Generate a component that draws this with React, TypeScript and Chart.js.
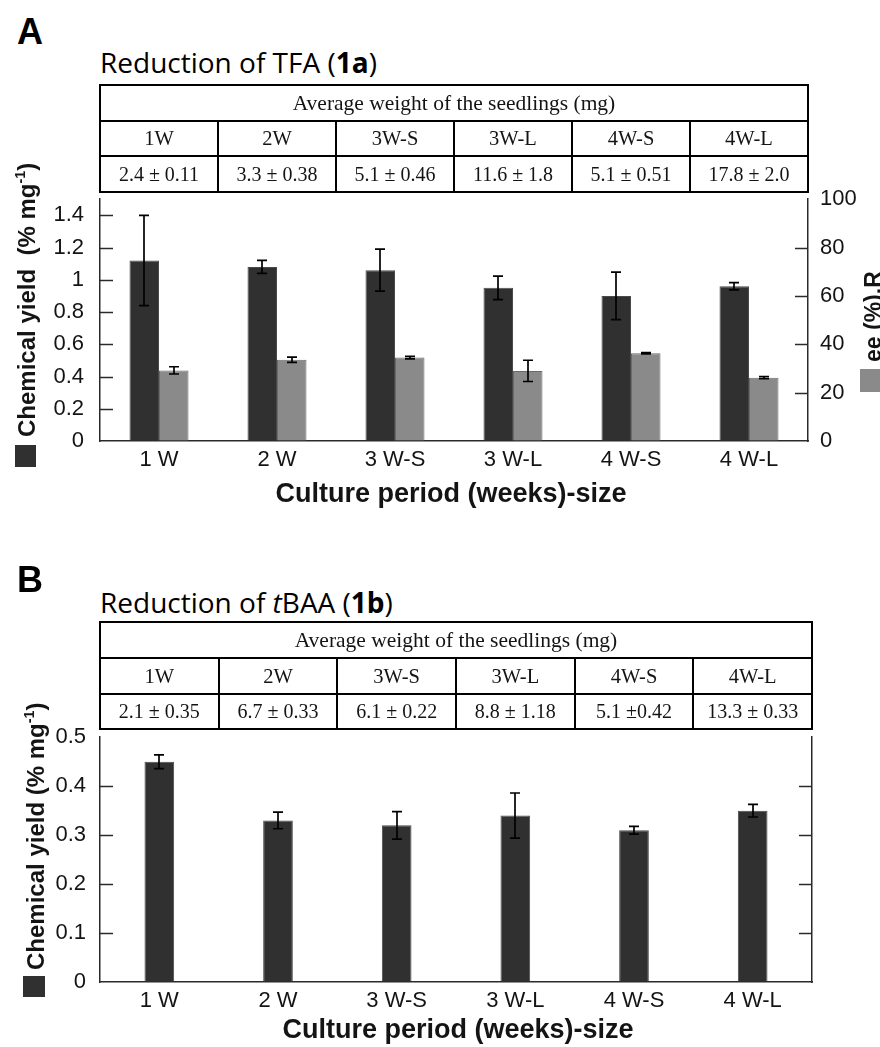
import React, { useEffect, useRef } from "react";
import { Chart, registerables } from "chart.js";

Chart.register(...registerables);

// ---------- data ----------
const CATEGORIES = ["1 W", "2 W", "3 W-S", "3 W-L", "4 W-S", "4 W-L"];
const TABLE_HEADS = ["1W", "2W", "3W-S", "3W-L", "4W-S", "4W-L"];
const TABLE_TITLE = "Average weight of the seedlings (mg)";
const WEIGHTS_A = ["2.4 ± 0.11", "3.3 ± 0.38", "5.1 ± 0.46", "11.6 ± 1.8", "5.1 ± 0.51", "17.8 ± 2.0"];
const WEIGHTS_B = ["2.1 ± 0.35", "6.7 ± 0.33", "6.1 ± 0.22", "8.8 ± 1.18", "5.1 ±0.42", "13.3 ± 0.33"];

const YIELD_A = [1.12, 1.08, 1.06, 0.95, 0.9, 0.96];
const YIELD_A_ERR = [0.28, 0.04, 0.13, 0.073, 0.147, 0.022];
const EE_A = [29.2, 33.6, 34.5, 29.0, 36.3, 26.2];
const EE_A_ERR = [1.5, 1.1, 0.5, 4.4, 0.25, 0.45];

const YIELD_B = [0.45, 0.33, 0.32, 0.34, 0.31, 0.35];
const YIELD_B_ERR = [0.014, 0.017, 0.028, 0.046, 0.008, 0.013];

const TICKS_A_LEFT = [0, 0.2, 0.4, 0.6, 0.8, 1, 1.2, 1.4];
const TICKS_A_RIGHT = [0, 20, 40, 60, 80, 100];
const TICKS_B = [0, 0.1, 0.2, 0.3, 0.4, 0.5];

// ---------- styles ----------
const SANS = '"Liberation Sans", Arial, Helvetica, sans-serif';
const SERIF = '"Liberation Serif", "Times New Roman", serif';
const TITLE_FONT = '"Open Sans", "Noto Sans", sans-serif';
const DARK = "#303030";
const GRAY = "#8a8a8a";
const AXIS = "#2a2a2a";
const TEXT = "#141414";

function makeErrorBars(sets: number[][]) {
  return {
    id: "errorBars",
    afterDatasetsDraw(chart: any) {
      const ctx = chart.ctx;
      ctx.save();
      ctx.strokeStyle = "#000";
      ctx.lineWidth = 1.7;
      chart.data.datasets.forEach((ds: any, i: number) => {
        const errs = sets[i];
        if (!errs) return;
        const meta = chart.getDatasetMeta(i);
        const scale = chart.scales[meta.yAxisID];
        meta.data.forEach((el: any, j: number) => {
          const v = ds.data[j];
          const e = errs[j];
          const x = Math.round(el.x);
          const yT = scale.getPixelForValue(v + e);
          const yB = scale.getPixelForValue(v - e);
          ctx.beginPath();
          ctx.moveTo(x, yT);
          ctx.lineTo(x, yB);
          ctx.moveTo(x - 5, yT);
          ctx.lineTo(x + 5, yT);
          ctx.moveTo(x - 5, yB);
          ctx.lineTo(x + 5, yB);
          ctx.stroke();
        });
      });
      ctx.restore();
    },
  };
}

function makeInnerTicks(axes: { id: string; side: "left" | "right" }[]) {
  return {
    id: "innerTicks",
    afterDraw(chart: any) {
      const { ctx, chartArea } = chart;
      ctx.save();
      ctx.strokeStyle = AXIS;
      ctx.lineWidth = 1.5;
      axes.forEach(({ id, side }) => {
        const scale = chart.scales[id];
        scale.ticks.forEach((t: any) => {
          if (t.value <= scale.min || t.value >= scale.max) return;
          const y = Math.round(scale.getPixelForValue(t.value)) + 0.5;
          ctx.beginPath();
          if (side === "left") {
            ctx.moveTo(chartArea.left, y);
            ctx.lineTo(chartArea.left + 13, y);
          } else {
            ctx.moveTo(chartArea.right, y);
            ctx.lineTo(chartArea.right - 13, y);
          }
          ctx.stroke();
        });
      });
      ctx.restore();
    },
  };
}

const fmt = (v: any) => String(Math.round(Number(v) * 10) / 10);

function xScale() {
  return {
    grid: { display: true, drawOnChartArea: false, drawTicks: false },
    border: { display: true, color: AXIS, width: 1.5 },
    ticks: { font: { family: SANS, size: 22 }, color: TEXT, padding: 6, maxRotation: 0, autoSkip: false },
    afterFit: (s: any) => {
      s.height = 30;
    },
  };
}

function yScale(pos: "left" | "right", min: number, max: number, ticks: number[], showLabels: boolean, pad: number, width: number) {
  return {
    position: pos,
    min,
    max,
    afterBuildTicks: (s: any) => {
      s.ticks = ticks.map((v) => ({ value: v }));
    },
    grid: { display: true, drawOnChartArea: false, drawTicks: false },
    border: { display: true, color: AXIS, width: 1.5 },
    ticks: {
      display: showLabels,
      font: { family: SANS, size: 22 },
      color: TEXT,
      padding: pad,
      callback: (v: any) => fmt(v),
    },
    afterFit: (s: any) => {
      s.width = width;
    },
  };
}

function configA() {
  return {
    type: "bar",
    data: {
      labels: CATEGORIES,
      datasets: [
        {
          label: "Chemical yield",
          data: YIELD_A,
          yAxisID: "y",
          backgroundColor: DARK,
          borderColor: "#4a4a4a",
          borderWidth: 1,
          categoryPercentage: 0.5,
          barPercentage: 1,
        },
        {
          label: "ee (%)",
          data: EE_A,
          yAxisID: "y1",
          backgroundColor: GRAY,
          borderColor: "#6a6a6a",
          borderWidth: 1,
          categoryPercentage: 0.5,
          barPercentage: 1,
        },
      ],
    },
    options: {
      responsive: false,
      animation: false,
      layout: { padding: { left: 40, right: 12, top: 22, bottom: 19 } },
      plugins: { legend: { display: false }, tooltip: { enabled: false } },
      scales: {
        x: xScale(),
        y: yScale("left", 0, 1.5, TICKS_A_LEFT, true, 16, 60),
        y1: yScale("right", 0, 100, TICKS_A_RIGHT, true, 12, 60),
      },
    },
    plugins: [
      makeErrorBars([YIELD_A_ERR, EE_A_ERR]),
      makeInnerTicks([
        { id: "y", side: "left" },
        { id: "y1", side: "right" },
      ]),
    ],
  };
}

function configB() {
  return {
    type: "bar",
    data: {
      labels: CATEGORIES,
      datasets: [
        {
          label: "Chemical yield",
          data: YIELD_B,
          yAxisID: "y",
          backgroundColor: DARK,
          borderColor: "#4a4a4a",
          borderWidth: 1,
          categoryPercentage: 0.25,
          barPercentage: 1,
        },
      ],
    },
    options: {
      responsive: false,
      animation: false,
      layout: { padding: { left: 40, right: 48, top: 19, bottom: 18 } },
      plugins: { legend: { display: false }, tooltip: { enabled: false } },
      scales: {
        x: xScale(),
        y: yScale("left", 0, 0.5, TICKS_B, true, 14, 60),
        y1: yScale("right", 0, 0.5, TICKS_B, false, 0, 20),
      },
    },
    plugins: [
      makeErrorBars([YIELD_B_ERR]),
      makeInnerTicks([
        { id: "y", side: "left" },
        { id: "y1", side: "right" },
      ]),
    ],
  };
}

function ChartCanvas({ top, height, build }: { top: number; height: number; build: () => any }) {
  const ref = useRef<HTMLCanvasElement | null>(null);
  useEffect(() => {
    const chart = new Chart(ref.current as HTMLCanvasElement, build());
    return () => chart.destroy();
  }, []);
  return (
    <canvas
      ref={ref}
      width={880}
      height={height}
      style={{ position: "absolute", left: 0, top, width: 880, height, display: "block" }}
    />
  );
}

function WeightTable({ left, right, rows, values }: { left: number; right: number; rows: number[]; values: string[] }) {
  const w = (right - left) / 6;
  const items: any[] = [];
  rows.forEach((y, i) =>
    items.push(
      <div key={"h" + i} style={{ position: "absolute", left: left - 1, top: y - 1, width: right - left + 2, height: 2, background: "#000" }} />
    )
  );
  [left, right].forEach((x, i) =>
    items.push(
      <div key={"o" + i} style={{ position: "absolute", left: x - 1, top: rows[0] - 1, width: 2, height: rows[3] - rows[0] + 2, background: "#000" }} />
    )
  );
  for (let k = 1; k < 6; k++) {
    const x = Math.round(left + k * w);
    items.push(
      <div key={"v" + k} style={{ position: "absolute", left: x - 1, top: rows[1], width: 2, height: rows[3] - rows[1], background: "#000" }} />
    );
  }
  const cell = (key: string, x0: number, x1: number, y0: number, y1: number, text: string, size: number) => (
    <div
      key={key}
      style={{
        position: "absolute",
        left: x0,
        top: y0,
        width: x1 - x0,
        height: y1 - y0,
        display: "flex",
        alignItems: "center",
        justifyContent: "center",
        fontFamily: SERIF,
        fontSize: size,
        color: TEXT,
        whiteSpace: "nowrap",
      }}
    >
      {text}
    </div>
  );
  items.push(cell("t", left, right, rows[0], rows[1], TABLE_TITLE, 21.5));
  TABLE_HEADS.forEach((h, k) => items.push(cell("c" + k, left + k * w, left + (k + 1) * w, rows[1], rows[2], h, 20.5)));
  values.forEach((v, k) => items.push(cell("w" + k, left + k * w, left + (k + 1) * w, rows[2], rows[3], v, 20)));
  return <>{items}</>;
}

function Rotated({ left, bottom, size, children }: { left: number; bottom: number; size: number; children: any }) {
  return (
    <div
      style={{
        position: "absolute",
        left,
        top: bottom,
        transformOrigin: "0 0",
        transform: "rotate(-90deg)",
        whiteSpace: "nowrap",
        fontFamily: SANS,
        fontWeight: "bold",
        fontSize: size,
        lineHeight: size + "px",
        color: TEXT,
      }}
    >
      {children}
    </div>
  );
}

const Sup = ({ children }: { children: any }) => (
  <span style={{ fontSize: "0.6em", position: "relative", top: "-0.7em" }}>{children}</span>
);

export default function App() {
  return (
    <div
      style={{
        position: "absolute",
        left: 0,
        top: 0,
        width: 880,
        height: 1047,
        overflow: "hidden",
        background: "#fff",
      }}
    >
      <ChartCanvas top={170} height={320} build={configA} />
      <ChartCanvas top={710} height={320} build={configB} />

      {/* Panel A */}
      <div style={{ position: "absolute", left: 17, top: 14, fontFamily: SANS, fontWeight: "bold", fontSize: 36, lineHeight: "36px", color: "#000" }}>A</div>
      <div style={{ position: "absolute", left: 100, top: 48, fontFamily: TITLE_FONT, fontSize: 28, lineHeight: "28px", color: "#000", whiteSpace: "nowrap" }}>
        Reduction of TFA (<b>1a</b>)
      </div>
      <WeightTable left={100} right={808} rows={[85, 121, 156, 192]} values={WEIGHTS_A} />
      <Rotated left={15} bottom={437} size={24}>
        Chemical yield&nbsp; (% mg<Sup>-1</Sup>)
      </Rotated>
      <div style={{ position: "absolute", left: 15, top: 445, width: 21, height: 22, background: DARK }} />
      <Rotated left={862} bottom={362} size={23}>
        ee (%).R
      </Rotated>
      <div style={{ position: "absolute", left: 860, top: 369, width: 22, height: 23, background: GRAY }} />
      <div style={{ position: "absolute", left: 97, top: 480, width: 708, textAlign: "center", fontFamily: SANS, fontWeight: "bold", fontSize: 27, lineHeight: "27px", color: TEXT, whiteSpace: "nowrap" }}>
        Culture period (weeks)-size
      </div>

      {/* Panel B */}
      <div style={{ position: "absolute", left: 17, top: 562, fontFamily: SANS, fontWeight: "bold", fontSize: 36, lineHeight: "36px", color: "#000" }}>B</div>
      <div style={{ position: "absolute", left: 100, top: 588, fontFamily: TITLE_FONT, fontSize: 28, lineHeight: "28px", color: "#000", whiteSpace: "nowrap" }}>
        Reduction of <i>t</i>BAA (<b>1b</b>)
      </div>
      <WeightTable left={100} right={812} rows={[622, 658, 694, 729]} values={WEIGHTS_B} />
      <Rotated left={24} bottom={970} size={24}>
        Chemical yield (% mg<Sup>-1</Sup>)
      </Rotated>
      <div style={{ position: "absolute", left: 23, top: 976, width: 22, height: 21, background: DARK }} />
      <div style={{ position: "absolute", left: 104, top: 1016, width: 708, textAlign: "center", fontFamily: SANS, fontWeight: "bold", fontSize: 27, lineHeight: "27px", color: TEXT, whiteSpace: "nowrap" }}>
        Culture period (weeks)-size
      </div>
    </div>
  );
}
